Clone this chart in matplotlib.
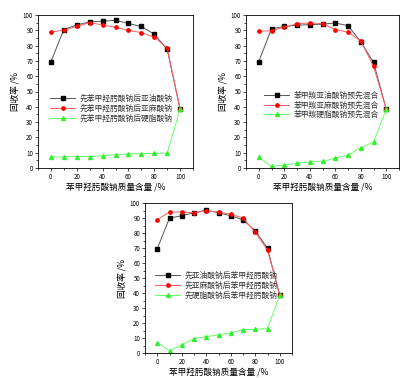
import numpy as np
import matplotlib
matplotlib.use("Agg")
import matplotlib.pyplot as plt
from matplotlib.ticker import MultipleLocator

plt.rcParams['font.family'] = ['Noto Sans CJK SC', 'DejaVu Sans']

x = [0, 10, 20, 30, 40, 50, 60, 70, 80, 90, 100]

# panel 1
p1_black = [69.5, 90.5, 93.5, 95.5, 96, 96.5, 94.5, 92.5, 87.5, 77.5, 38.5]
p1_red = [89, 90, 92.5, 95, 93.5, 92, 90, 88.5, 85.5, 78.5, 38.5]
p1_green = [7, 7.3, 7.5, 7.5, 8, 8.7, 9.2, 9.3, 9.6, 9.8, 38.5]
p1_labels = ["先苯甲羟肟酸钠后亚油酸钠", "先苯甲羟肟酸钠后亚麻酸钠", "先苯甲羟肟酸钠后硬脂酸钠"]

# panel 2
p2_black = [69.5, 91, 92.5, 93.3, 93.7, 94, 94.8, 93, 82.5, 69, 38.5]
p2_red = [89.3, 89.8, 92, 94.3, 94.8, 94.3, 90.5, 88.8, 83, 66.5, 38.5]
p2_green = [7, 1, 2, 3, 4, 4.3, 6.5, 8.5, 13.3, 17, 38.5]
p2_labels = ["苯甲羰亚油酸钠预先混合", "苯甲羰亚麻酸钠预先混合", "苯甲羰硬脂酸钠预先混合"]

# panel 3
p3_black = [69.5, 90, 91.5, 93.5, 95.2, 93.5, 91.5, 88.8, 81.5, 69.8, 38.5]
p3_red = [89, 94, 94, 93.5, 94.8, 94, 92.5, 90, 80.5, 68.5, 38.5]
p3_green = [7, 1.5, 5.5, 9.5, 11, 12, 13.5, 15.5, 15.8, 16.3, 38.5]
p3_labels = ["先亚油酸钠后苯甲羟肟酸钠", "先亚麻酸钠后苯甲羟肟酸钠", "先硬脂酸钠后苯甲羟肟酸钠"]

xlabel = "苯甲羟肟酸钠质量含量 /%"
ylabel = "回收率 /%"

W, H = 413, 378
fig = plt.figure(figsize=(W / 100, H / 100), dpi=100)


def draw(rect, black, red, green, labels, anchor):
    l, t, r, b = rect
    ax = fig.add_axes([l / W, 1 - b / H, (r - l) / W, (b - t) / H])
    ax.plot(x, black, color="#555555", lw=0.7, marker="s", ms=2.2,
            mfc="black", mec="black", label=labels[0])
    ax.plot(x, red, color="#ff6060", lw=0.7, marker="o", ms=2.4,
            mfc="red", mec="red", label=labels[1])
    ax.plot(x, green, color="#66ff66", lw=0.7, marker="^", ms=2.8,
            mfc="#33ee33", mec="#33ee33", label=labels[2])
    ax.set_xlim(-10, 110)
    ax.set_ylim(0, 100)
    ax.xaxis.set_major_locator(MultipleLocator(20))
    ax.xaxis.set_minor_locator(MultipleLocator(10))
    ax.yaxis.set_major_locator(MultipleLocator(10))
    ax.yaxis.set_minor_locator(MultipleLocator(5))
    ax.tick_params(which="both", direction="out", labelsize=4.5, width=0.5,
                   pad=1.5, top=False, right=False)
    ax.tick_params(which="major", length=2)
    ax.tick_params(which="minor", length=1.2)
    for s in ax.spines.values():
        s.set_linewidth(0.6)
    ax.set_xlabel(xlabel, fontsize=6.2, labelpad=1)
    ax.set_ylabel(ylabel, fontsize=6.2, labelpad=2)
    ax.legend(loc="center left", bbox_to_anchor=anchor, frameon=False,
              fontsize=5.6, handlelength=3.2, labelspacing=0.2,
              handletextpad=0.6, borderaxespad=0, labelcolor="#333333")
    return ax


draw((38, 15, 193, 168), p1_black, p1_red, p1_green, p1_labels, (0.06, 0.39))
draw((246, 15, 399, 168), p2_black, p2_red, p2_green, p2_labels, (0.1, 0.41))
draw((145, 203, 292, 353), p3_black, p3_red, p3_green, p3_labels, (0.05, 0.45))

fig.savefig("out.png", dpi=100)
